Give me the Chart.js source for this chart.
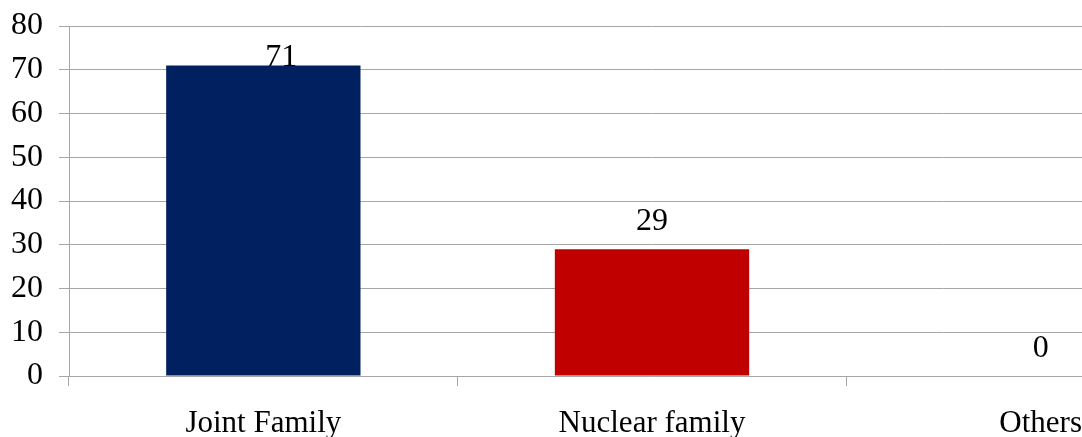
<!DOCTYPE html>
<html>
<head>
<meta charset="utf-8">
<script src="https://cdn.jsdelivr.net/npm/chart.js@4/dist/chart.umd.min.js"></script>
<style>
  html, body { margin: 0; padding: 0; background: #fff; overflow: hidden; }
  #wrap { width: 1240px; height: 437px; }
</style>
</head>
<body>
<div id="wrap"><canvas id="c" width="1240" height="437"></canvas></div>
<script>
// Family type distribution
const categories = ['Joint Family', 'Nuclear family', 'Others'];
const values = [71, 29, 0];
const barColors = ['#002060', '#C00000', '#7F7F7F'];
const yTicks = [0, 10, 20, 30, 40, 50, 60, 70, 80];

const FONT = '"Liberation Serif", "Times New Roman", serif';
const GRID = '#a6a6a6';

// Value labels above each bar; kept inside the plot when the bar is tall
const valueLabels = {
  id: 'valueLabels',
  afterDatasetsDraw(chart) {
    const ctx = chart.ctx;
    const meta = chart.getDatasetMeta(0);
    const top = chart.chartArea.top;
    ctx.save();
    ctx.font = '32px ' + FONT;
    ctx.fillStyle = '#000';
    ctx.textAlign = 'center';
    ctx.textBaseline = 'alphabetic';
    meta.data.forEach((bar, i) => {
      let y = bar.y - 19;
      let x = bar.x;
      const minY = top + 40;
      if (y < minY) { y = minY; x += 18; }
      ctx.fillText(String(values[i]), x, y);
    });
    ctx.restore();
  }
};

new Chart(document.getElementById('c'), {
  type: 'bar',
  data: {
    labels: categories,
    datasets: [{
      data: values,
      backgroundColor: barColors,
      borderWidth: 0,
      barPercentage: 0.5,
      categoryPercentage: 1.0
    }]
  },
  options: {
    responsive: false,
    animation: false,
    devicePixelRatio: 1,
    layout: { padding: { top: 26, right: 5, left: 0, bottom: 0 } },
    plugins: { legend: { display: false }, tooltip: { enabled: false } },
    scales: {
      x: {
        afterFit(scale) { scale.height = 61; scale.paddingLeft = 0; scale.paddingRight = 0; },
        grid: { offset: true, drawOnChartArea: false, drawTicks: true, tickLength: 10, color: GRID, lineWidth: 1 },
        border: { display: true, color: GRID, width: 1 },
        ticks: { color: '#000', font: { family: FONT, size: 31 }, padding: 19, maxRotation: 0, autoSkip: false }
      },
      y: {
        min: 0,
        max: 80,
        afterFit(scale) { scale.width = 69; scale.paddingTop = 0; scale.paddingBottom = 0; },
        afterBuildTicks(scale) { scale.ticks = yTicks.map(v => ({ value: v })); },
        grid: { color: GRID, lineWidth: 1, tickLength: 10, drawTicks: true },
        border: { display: true, color: GRID, width: 1 },
        ticks: { color: '#000', font: { family: FONT, size: 32 }, padding: 16 }
      }
    }
  },
  plugins: [valueLabels]
});
</script>
</body>
</html>
